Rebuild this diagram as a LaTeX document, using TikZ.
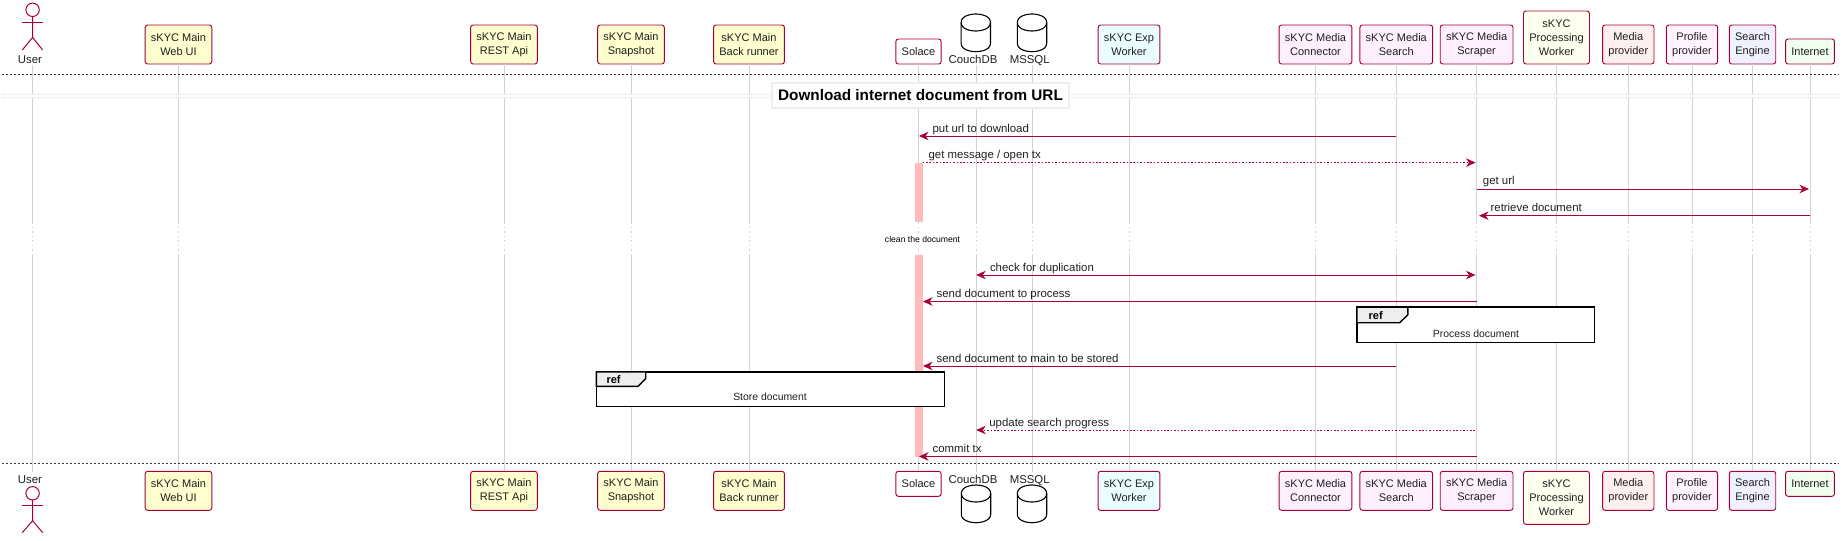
\documentclass[tikz,border=0pt]{standalone}
\usepackage{fontspec}
\setmainfont{Liberation Sans}
\usepackage{xcolor}
\usepackage{tikz}
\usetikzlibrary{arrows.meta}
\definecolor{umlred}{HTML}{A80036}
\definecolor{mainfill}{HTML}{FEFECE}
\definecolor{expfill}{HTML}{EBFEFF}
\definecolor{mediafill}{HTML}{FFF0FF}
\definecolor{procfill}{HTML}{FFFFF0}
\definecolor{provfill}{HTML}{FFF0F0}
\definecolor{proffill}{HTML}{FFF3FF}
\definecolor{enginefill}{HTML}{F0F0FF}
\definecolor{netfill}{HTML}{F0FFF0}
\definecolor{actfill}{HTML}{FFBBBB}
\definecolor{lifegray}{HTML}{D2D2D2}
\definecolor{divgray}{HTML}{EEEEEE}
\tikzset{
  every node/.style={inner sep=0pt,outer sep=0pt,text=black!88,font=\fontsize{11.4}{14}\selectfont},
  partbox/.style={draw=umlred,line width=0.95pt,rounded corners=2.5pt,align=center,inner xsep=5.8pt,minimum height=39pt,font=\fontsize{11}{14}\selectfont},
  onebox/.style={partbox,minimum height=25pt},
  threebox/.style={partbox,minimum height=53pt},
  dbname/.style={anchor=base},
  dbcan/.pic={
    \draw[draw=black,line width=1.1pt,fill=white] (-14.7,8.5) .. controls (-14.7,0) and (0,0) .. (0,0) .. controls (0,0) and (14.7,0) .. (14.7,8.5) -- (14.7,29.2) .. controls (14.7,37.7) and (0,37.7) .. (0,37.7) .. controls (0,37.7) and (-14.7,37.7) .. (-14.7,29.2) -- cycle;
    \draw[draw=black,line width=1.1pt] (-14.7,8.5) .. controls (-14.7,17) and (0,17) .. (0,17) .. controls (0,17) and (14.7,17) .. (14.7,8.5);
  },
  lifeline/.style={draw=lifegray,line width=0.9pt},
  lifegap/.style={draw=lifegray,line width=0.7pt,dash pattern=on 1.5pt off 3pt},
  msgline/.style={draw=umlred,line width=0.95pt,-{Stealth[length=9.5pt,width=8.5pt,inset=3pt]}},
  msgdot/.style={msgline,dash pattern=on 1.7pt off 1.7pt},
  msgboth/.style={msgline,{Stealth[length=9.5pt,width=8.5pt,inset=3pt]}-{Stealth[length=9.5pt,width=8.5pt,inset=3pt]}},
  msgtext/.style={anchor=base west},
  sepline/.style={draw=black!80,line width=0.7pt,dash pattern=on 2pt off 2pt},
  refbox/.style={draw=black,line width=1.4pt,fill=white},
  reftab/.style={draw=black,line width=1.4pt,fill=divgray},
  reftag/.style={text=black,font=\bfseries\fontsize{11}{13}\selectfont,anchor=base west},
  reftext/.style={font=\fontsize{10.4}{12}\selectfont},
  actor/.style={draw=umlred,line width=1pt}
}
\begin{document}
\begin{tikzpicture}[x=1pt,y=-1pt]
    \useasboundingbox (0,0) rectangle (1848,541);
    % Participants on top
    \node[dbname] (userL) at (30,63) {User};
    \node[partbox,fill=mainfill,anchor=south] (webUI) at (178.5,64) {sKYC Main\\Web UI};
    \node[partbox,fill=mainfill,anchor=south] (restApi) at (504,64) {sKYC Main\\REST Api};
    \node[partbox,fill=mainfill,anchor=south] (snapshot) at (631,64) {sKYC Main\\Snapshot};
    \node[partbox,fill=mainfill,anchor=south] (backRunner) at (749,64) {sKYC Main\\Back runner};
    \node[onebox,fill=white,anchor=south] (solace) at (918.5,64) {Solace};
    \node[dbname] (couchL) at (973,63) {CouchDB};
    \node[dbname] (sqlL) at (1029.7,63) {MSSQL};
    \node[partbox,fill=expfill,anchor=south] (expWorker) at (1129,64) {sKYC Exp\\Worker};
    \node[partbox,fill=mediafill,anchor=south] (mediaConn) at (1315.5,64) {sKYC Media\\Connector};
    \node[partbox,fill=mediafill,anchor=south] (mediaSearch) at (1396.3,64) {sKYC Media\\Search};
    \node[partbox,fill=mediafill,anchor=south] (mediaScraper) at (1476.6,64) {sKYC Media\\Scraper};
    \node[threebox,fill=procfill,anchor=south] (procWorker) at (1556.5,64) {sKYC\\Processing\\Worker};
    \node[partbox,fill=provfill,anchor=south] (mediaProv) at (1628.3,64) {Media\\provider};
    \node[partbox,fill=proffill,anchor=south] (profileProv) at (1692,64) {Profile\\provider};
    \node[partbox,fill=enginefill,anchor=south] (searchEngine) at (1752.5,64) {Search\\Engine};
    \node[onebox,fill=netfill,anchor=south] (internet) at (1810,64) {Internet};
    % Participants on bottom
    \node[dbname] (userLB) at (30,483) {User};
    \node[partbox,fill=mainfill,anchor=north] (webUIB) at (178.5,471.3) {sKYC Main\\Web UI};
    \node[partbox,fill=mainfill,anchor=north] (restApiB) at (504,471.3) {sKYC Main\\REST Api};
    \node[partbox,fill=mainfill,anchor=north] (snapshotB) at (631,471.3) {sKYC Main\\Snapshot};
    \node[partbox,fill=mainfill,anchor=north] (backRunnerB) at (749,471.3) {sKYC Main\\Back runner};
    \node[onebox,fill=white,anchor=north] (solaceB) at (918.5,471.3) {Solace};
    \node[dbname] (couchLB) at (973,483) {CouchDB};
    \node[dbname] (sqlLB) at (1029.7,483) {MSSQL};
    \node[partbox,fill=expfill,anchor=north] (expWorkerB) at (1129,471.3) {sKYC Exp\\Worker};
    \node[partbox,fill=mediafill,anchor=north] (mediaConnB) at (1315.5,471.3) {sKYC Media\\Connector};
    \node[partbox,fill=mediafill,anchor=north] (mediaSearchB) at (1396.3,471.3) {sKYC Media\\Search};
    \node[partbox,fill=mediafill,anchor=north] (mediaScraperB) at (1476.6,471.3) {sKYC Media\\Scraper};
    \node[threebox,fill=procfill,anchor=north] (procWorkerB) at (1556.5,471.3) {sKYC\\Processing\\Worker};
    \node[partbox,fill=provfill,anchor=north] (mediaProvB) at (1628.3,471.3) {Media\\provider};
    \node[partbox,fill=proffill,anchor=north] (profileProvB) at (1692,471.3) {Profile\\provider};
    \node[partbox,fill=enginefill,anchor=north] (searchEngineB) at (1752.5,471.3) {Search\\Engine};
    \node[onebox,fill=netfill,anchor=north] (internetB) at (1810,471.3) {Internet};
    % Free ends of the lifelines with no box
    \coordinate (userT) at (32.4,65);
    \coordinate (userB) at (32.4,471.5);
    \coordinate (couchT) at (976.2,65);
    \coordinate (couchB) at (976.2,471.5);
    \coordinate (sqlT) at (1032.2,65);
    \coordinate (sqlB) at (1032.2,471.5);
    % Lifelines
    \draw[lifeline] (userT) -- (userB);
    \draw[lifeline] (webUI) -- (webUIB);
    \draw[lifeline] (restApi) -- (restApiB);
    \draw[lifeline] (snapshot) -- (snapshotB);
    \draw[lifeline] (backRunner) -- (backRunnerB);
    \draw[lifeline] (solace) -- (solaceB);
    \draw[lifeline] (couchT) -- (couchB);
    \draw[lifeline] (sqlT) -- (sqlB);
    \draw[lifeline] (expWorker) -- (expWorkerB);
    \draw[lifeline] (mediaConn) -- (mediaConnB);
    \draw[lifeline] (mediaSearch) -- (mediaSearchB);
    \draw[lifeline] (mediaScraper) -- (mediaScraperB);
    \draw[lifeline] (procWorker) -- (procWorkerB);
    \draw[lifeline] (mediaProv) -- (mediaProvB);
    \draw[lifeline] (profileProv) -- (profileProvB);
    \draw[lifeline] (searchEngine) -- (searchEngineB);
    \draw[lifeline] (internet) -- (internetB);
    % The delay
    \fill[white] (0,221.7) rectangle (1848,255);
    \coordinate (gapT) at (0,222);
    \coordinate (gapB) at (0,255);
    \draw[lifegap] (userT |- gapT) -- (userT |- gapB);
    \draw[lifegap] (webUI |- gapT) -- (webUI |- gapB);
    \draw[lifegap] (restApi |- gapT) -- (restApi |- gapB);
    \draw[lifegap] (snapshot |- gapT) -- (snapshot |- gapB);
    \draw[lifegap] (backRunner |- gapT) -- (backRunner |- gapB);
    \draw[lifegap] (solace |- gapT) -- (solace |- gapB);
    \draw[lifegap] (couchT |- gapT) -- (couchT |- gapB);
    \draw[lifegap] (sqlT |- gapT) -- (sqlT |- gapB);
    \draw[lifegap] (expWorker |- gapT) -- (expWorker |- gapB);
    \draw[lifegap] (mediaConn |- gapT) -- (mediaConn |- gapB);
    \draw[lifegap] (mediaSearch |- gapT) -- (mediaSearch |- gapB);
    \draw[lifegap] (mediaScraper |- gapT) -- (mediaScraper |- gapB);
    \draw[lifegap] (procWorker |- gapT) -- (procWorker |- gapB);
    \draw[lifegap] (mediaProv |- gapT) -- (mediaProv |- gapB);
    \draw[lifegap] (profileProv |- gapT) -- (profileProv |- gapB);
    \draw[lifegap] (searchEngine |- gapT) -- (searchEngine |- gapB);
    \draw[lifegap] (internet |- gapT) -- (internet |- gapB);
    \node[fill=white,inner ysep=1pt,text=black,font=\fontsize{8.6}{10}\selectfont] (cleanT) at (922.5,239) {clean the document};
    % Activations
    \fill[actfill] (914.5,162.5) rectangle (922.5,221.7);
    \fill[actfill] (914.5,255) rectangle (922.5,456.7);
    % Separators and divider
    \coordinate (sepTL) at (2,74);
    \coordinate (sepTR) at (1838.5,74);
    \coordinate (sepBL) at (2,463.3);
    \coordinate (sepBR) at (1838.5,463.3);
    \draw[sepline] (sepTL) -- (sepTR);
    \draw[sepline] (sepBL) -- (sepBR);
    \draw[divgray,line width=0.9pt,fill=white] (2,94.8) rectangle (1838.5,97.4);
    \node[draw=divgray,line width=1.6pt,fill=white,text=black,minimum width=297pt,minimum height=25pt,font=\bfseries\fontsize{15.3}{17}\selectfont] (dlTitle) at (920.5,95.5) {Download internet document from URL};
    % Databases and actors
    \pic (couchDB) at (975.8,14) {dbcan};
    \pic (msSQL) at (1032,14) {dbcan};
    \pic (couchDBB) at (976,485) {dbcan};
    \pic (msSQLB) at (1032,485) {dbcan};
    \draw[actor,fill=white] (32.6,9.8) circle (6.7);
    \draw[actor] (32.6,16.5) -- (32.6,37.4) -- (22.3,50);
    \draw[actor] (32.6,37.4) -- (42.7,50);
    \draw[actor] (22.3,22.3) -- (42.7,22.3);
    \draw[actor,fill=white] (32.6,493.3) circle (6.7);
    \draw[actor] (32.6,500) -- (32.6,520.7) -- (22.3,532.7);
    \draw[actor] (32.6,520.7) -- (42.7,532.7);
    \draw[actor] (22.3,505.3) -- (42.7,505.3);
    % Messages
    \coordinate (putA) at (1396.3,136);
    \coordinate (putB) at (919,136);
    \coordinate (getA) at (922.5,162.6);
    \coordinate (getB) at (1475.5,162.6);
    \coordinate (urlA) at (1477,189);
    \coordinate (urlB) at (1809,189);
    \coordinate (retA) at (1810,215.7);
    \coordinate (retB) at (1479,215.7);
    \coordinate (dupA) at (976.2,275);
    \coordinate (dupB) at (1475.5,275);
    \coordinate (sendA) at (1476.6,301.5);
    \coordinate (sendB) at (923,301.5);
    \coordinate (mainA) at (1395.5,366);
    \coordinate (mainB) at (923,366);
    \coordinate (progA) at (1475,430);
    \coordinate (progB) at (976.2,430);
    \coordinate (comA) at (1476.6,456.5);
    \coordinate (comB) at (919,456.5);
    \draw[msgline] (putA) -- (putB);
    \draw[msgdot] (getA) -- (getB);
    \draw[msgline] (urlA) -- (urlB);
    \draw[msgline] (retA) -- (retB);
    \draw[msgboth] (dupA) -- (dupB);
    \draw[msgline] (sendA) -- (sendB);
    \draw[msgline] (mainA) -- (mainB);
    \draw[msgdot] (progA) -- (progB);
    \draw[msgline] (comA) -- (comB);
    \node[msgtext] (putT) at (932.6,132) {put url to download};
    \node[msgtext] (getT) at (928.6,158.5) {get message / open tx};
    \node[msgtext] (urlT) at (1482.9,184.5) {get url};
    \node[msgtext] (retT) at (1490.6,211.5) {retrieve document};
    \node[msgtext] (dupT) at (990,271) {check for duplication};
    \node[msgtext] (sendT) at (936.7,297.5) {send document to process};
    \node[msgtext] (mainT) at (936.7,362) {send document to main to be stored};
    \node[msgtext] (progT) at (989.4,426) {update search progress};
    \node[msgtext] (comT) at (932.7,452.5) {commit tx};
    % References
    \node[refbox,minimum width=237.6pt,minimum height=35.7pt] (procRef) at (1475.8,324.9) {};
    \draw[reftab] (procRef.north west) -- ++(50.9,0) -- ++(0,7.7) -- ++(-8.3,8) -- ++(-42.6,0) -- cycle;
    \node[reftag] (procTag) at (1368.6,319.3) {ref};
    \node[reftext] (procT) at (1476,334) {Process document};
    \node[refbox,minimum width=348.2pt,minimum height=34.7pt] (storeRef) at (770.4,389.3) {};
    \draw[reftab] (storeRef.north west) -- ++(49.4,0) -- ++(0,6.7) -- ++(-7.7,7.7) -- ++(-41.7,0) -- cycle;
    \node[reftag] (storeTag) at (606.5,383.5) {ref};
    \node[reftext] (storeT) at (770,397) {Store document};
\end{tikzpicture}
\end{document}
